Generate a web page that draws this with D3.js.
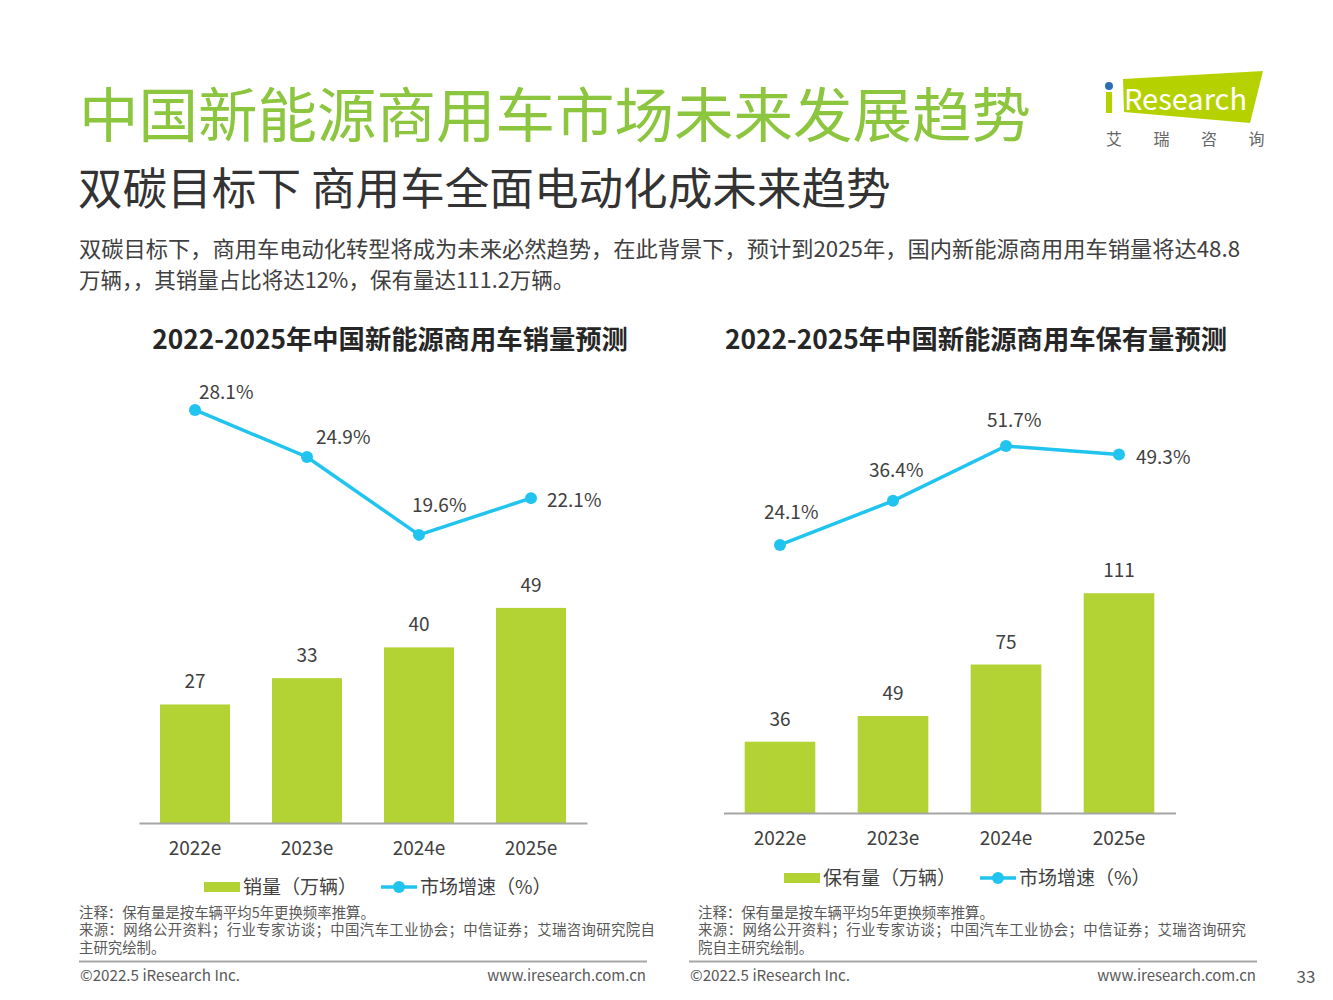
<!DOCTYPE html>
<html>
<head>
<meta charset="utf-8">
<script src="https://cdn.jsdelivr.net/npm/d3@7"></script>
<style>
  html, body { margin: 0; padding: 0; background: #fff; }
  svg { display: block; }
  text { font-family: "Noto Sans CJK SC", "Noto Sans", sans-serif; }
</style>
</head>
<body>
<svg id="chart" width="1333" height="1000"></svg>
<script>
// ---------- DATA ----------
const years = ["2022e", "2023e", "2024e", "2025e"];
const salesValues = [27, 33, 40, 49];            // 销量（万辆）
const salesGrowth = [28.1, 24.9, 19.6, 22.1];    // 市场增速（%）
const stockValues = [36, 49, 75, 111];           // 保有量（万辆）
const stockGrowth = [24.1, 36.4, 51.7, 49.3];    // 市场增速（%）

const mainTitle = "中国新能源商用车市场未来发展趋势";
const subTitle = "双碳目标下 商用车全面电动化成未来趋势";
const bodyLines = [
  "双碳目标下，商用车电动化转型将成为未来必然趋势，在此背景下，预计到2025年，国内新能源商用用车销量将达48.8",
  "万辆，，其销量占比将达12%，保有量达111.2万辆。"
];
const leftTitle = "2022-2025年中国新能源商用车销量预测";
const rightTitle = "2022-2025年中国新能源商用车保有量预测";
const leftNotes = [
  "注释：保有量是按车辆平均5年更换频率推算。",
  "来源：网络公开资料；行业专家访谈；中国汽车工业协会；中信证券；艾瑞咨询研究院自",
  "主研究绘制。"
];
const rightNotes = [
  "注释：保有量是按车辆平均5年更换频率推算。",
  "来源：网络公开资料；行业专家访谈；中国汽车工业协会；中信证券；艾瑞咨询研究",
  "院自主研究绘制。"
];

// ---------- STYLE ----------
const GREEN_TITLE = "#8cc63f";
const BAR = "#b3d234";
const LINE = "#21c4ef";
const TXT = "#404040";
const GRAY = "#595959";

const svg = d3.select("#chart");

// Titles
svg.append("text").attr("x", 79).attr("y", 111).attr("dominant-baseline", "central")
  .attr("font-size", 59.5).attr("fill", GREEN_TITLE).text(mainTitle);
svg.append("text").attr("x", 78).attr("y", 185).attr("dominant-baseline", "central")
  .attr("font-size", 44.6).attr("fill", "#333").text(subTitle);
bodyLines.forEach((t, i) => {
  const el = svg.append("text").attr("x", 79).attr("y", 247 + i * 31).attr("dominant-baseline", "central")
    .attr("font-size", 21.5).attr("fill", TXT).text(t);
  if (i === 0) el.attr("textLength", 1161).attr("lengthAdjust", "spacingAndGlyphs");
});

// Logo
const logo = svg.append("g");
logo.append("polygon").attr("points", "1123,79 1263,71 1250,123 1124,112").attr("fill", "#b6d100");
logo.append("rect").attr("x", 1106).attr("y", 92).attr("width", 6).attr("height", 21).attr("fill", "#b6d100");
logo.append("circle").attr("cx", 1109).attr("cy", 86).attr("r", 4).attr("fill", "#2e6db4");
logo.append("text").attr("x", 1124).attr("y", 97).attr("dominant-baseline", "central")
  .attr("font-size", 29).attr("fill", "#fff").attr("font-family", "'Open Sans', sans-serif").text("Research");
["艾", "瑞", "咨", "询"].forEach((c, i) => {
  logo.append("text").attr("x", 1114 + i * 47.5).attr("y", 138).attr("text-anchor", "middle")
    .attr("dominant-baseline", "central").attr("font-size", 16).attr("fill", "#666").text(c);
});

// ---------- CHART BUILDER ----------
function drawChart(cfg) {
  const g = svg.append("g");
  g.append("text").attr("x", cfg.titleX).attr("y", 337).attr("text-anchor", "middle")
    .attr("dominant-baseline", "central").attr("font-size", 26.3).attr("font-weight", "bold")
    .attr("fill", "#262626").text(cfg.title);

  const x = d3.scaleBand().domain(years).range(cfg.xRange).paddingInner(0.375).paddingOuter(0.1875);
  const yBar = d3.scaleLinear().domain(cfg.barDomain).range([cfg.base, cfg.barTop]);
  const yLine = d3.scaleLinear().domain(cfg.lineDomain).range(cfg.lineRange);
  const cx = i => x(years[i]) + x.bandwidth() / 2;

  // bars
  g.selectAll(".bar").data(cfg.bars).enter().append("rect")
    .attr("x", (d, i) => x(years[i])).attr("width", x.bandwidth())
    .attr("y", d => yBar(d)).attr("height", d => cfg.base - yBar(d)).attr("fill", BAR);
  g.selectAll(".bl").data(cfg.bars).enter().append("text")
    .attr("x", (d, i) => cx(i)).attr("y", d => yBar(d) - 24.5)
    .attr("text-anchor", "middle").attr("dominant-baseline", "central")
    .attr("font-size", 19).attr("fill", TXT).text(d => d);

  // axis
  const axis = d3.axisBottom(x).tickSize(0).tickPadding(0);
  const ag = g.append("g").attr("transform", `translate(0,${cfg.base})`).call(axis);
  ag.select(".domain").attr("stroke", "#a6a6a6").attr("stroke-width", 2);
  ag.selectAll("text").attr("y", 23.5).attr("dy", null).attr("dominant-baseline", "central")
    .attr("font-size", 19).attr("fill", TXT).attr("font-family", "'Noto Sans CJK SC', sans-serif");

  // line
  const line = d3.line().x((d, i) => cx(i)).y(d => yLine(d));
  g.append("path").datum(cfg.growth).attr("d", line).attr("fill", "none")
    .attr("stroke", LINE).attr("stroke-width", 3.5);
  g.selectAll(".pt").data(cfg.growth).enter().append("circle")
    .attr("cx", (d, i) => cx(i)).attr("cy", d => yLine(d))
    .attr("r", 6).attr("fill", LINE);
  g.selectAll(".pl").data(cfg.growth).enter().append("text")
    .attr("x", (d, i) => cx(i) + cfg.labelOff[i][0])
    .attr("y", (d, i) => yLine(d) + cfg.labelOff[i][1] - 1.5)
    .attr("dominant-baseline", "central").attr("font-size", 19).attr("fill", TXT)
    .text(d => d.toFixed(1) + "%");

  // legend
  const lg = g.append("g").attr("transform", `translate(0,${cfg.legendY})`);
  lg.append("rect").attr("x", cfg.legendX).attr("y", -5).attr("width", 36).attr("height", 10).attr("fill", BAR);
  lg.append("text").attr("x", cfg.legendX + 39).attr("y", -1.5).attr("dominant-baseline", "central")
    .attr("font-size", 19).attr("fill", TXT).text(cfg.barName);
  lg.append("line").attr("x1", cfg.legend2X).attr("x2", cfg.legend2X + 36).attr("y1", 0).attr("y2", 0)
    .attr("stroke", LINE).attr("stroke-width", 3.5);
  lg.append("circle").attr("cx", cfg.legend2X + 18).attr("cy", 0).attr("r", 6).attr("fill", LINE);
  lg.append("text").attr("x", cfg.legend2X + 39).attr("y", -1.5).attr("dominant-baseline", "central")
    .attr("font-size", 19).attr("fill", TXT).text("市场增速（%）");

  // notes
  cfg.notes.forEach((t, i) => {
    const el = g.append("text").attr("x", cfg.noteX).attr("y", 911 + i * 17.5).attr("dominant-baseline", "central")
      .attr("font-size", 14.4).attr("fill", GRAY).text(t);
    if (i === 1) el.attr("textLength", cfg.noteLen).attr("lengthAdjust", "spacing");
  });
  g.append("line").attr("x1", cfg.sepX[0]).attr("x2", cfg.sepX[1]).attr("y1", 961.5).attr("y2", 961.5)
    .attr("stroke", "#a6a6a6").attr("stroke-width", 2);
  g.append("text").attr("x", cfg.sepX[0] + 1).attr("y", 974).attr("dominant-baseline", "central")
    .attr("font-size", 15.2).attr("fill", GRAY).text("©2022.5 iResearch Inc.");
  g.append("text").attr("x", cfg.sepX[1] - 1).attr("y", 974).attr("dominant-baseline", "central")
    .attr("text-anchor", "end").attr("font-size", 15).attr("fill", GRAY).text("www.iresearch.com.cn");
}

drawChart({
  title: leftTitle, titleX: 390,
  xRange: [139, 587], base: 823,
  barDomain: [0, 60], barTop: 823 - 263.4,
  lineDomain: [0, 30], lineRange: [823, 382],
  bars: salesValues, growth: salesGrowth,
  labelOff: [[4, -18], [9, -20], [-7, -30], [16, 2]],
  legendY: 887, legendX: 204, legend2X: 381, barName: "销量（万辆）",
  notes: leftNotes, noteX: 79, noteLen: 576, sepX: [79, 647]
});
drawChart({
  title: rightTitle, titleX: 976,
  xRange: [723.5, 1175.5], base: 813,
  barDomain: [0, 120], barTop: 813 - 237.6,
  lineDomain: [0, 60], lineRange: [631.4, 416.2],
  bars: stockValues, growth: stockGrowth,
  labelOff: [[-16, -33], [-24, -31], [-19, -26], [17, 2]],
  legendY: 878, legendX: 784, legend2X: 980, barName: "保有量（万辆）",
  notes: rightNotes, noteX: 698, noteLen: 548, sepX: [689, 1257]
});

svg.append("text").attr("x", 1306).attr("y", 975).attr("text-anchor", "middle").attr("dominant-baseline", "central")
  .attr("font-size", 17).attr("fill", GRAY).text("33");
</script>
</body>
</html>
